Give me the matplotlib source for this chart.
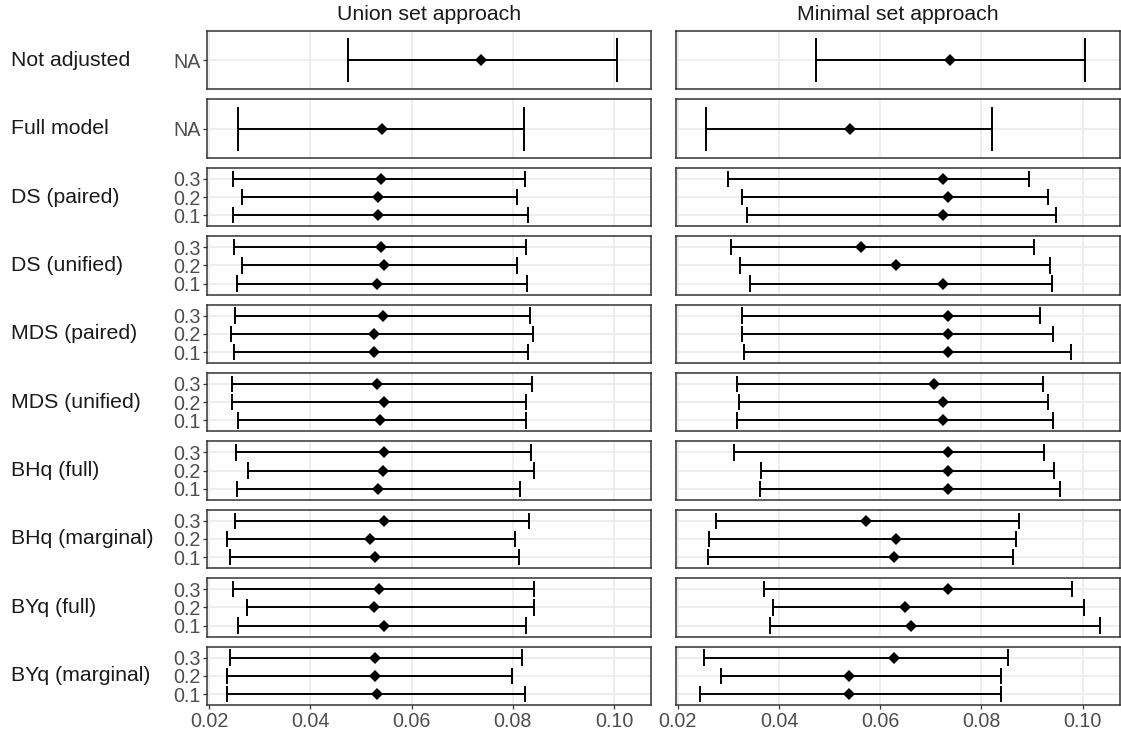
import numpy as np
import matplotlib.pyplot as plt

plt.rcParams['font.family'] = ['Liberation Sans', 'DejaVu Sans']

# Methods (facet rows) and the q-levels inside each facet
methods = ["Not adjusted", "Full model", "DS (paired)", "DS (unified)",
           "MDS (paired)", "MDS (unified)", "BHq (full)", "BHq (marginal)",
           "BYq (full)", "BYq (marginal)"]
levels = ["0.1", "0.2", "0.3"]
approaches = ["Union set approach", "Minimal set approach"]

# Union set approach: lower, estimate, upper (levels in order 0.1, 0.2, 0.3)
union_lo = [[0.0475], [0.0256],
            [0.0247, 0.0265, 0.0247], [0.0255, 0.0265, 0.0248],
            [0.0249, 0.0243, 0.0250], [0.0256, 0.0244, 0.0245],
            [0.0255, 0.0276, 0.0253], [0.0240, 0.0236, 0.0250],
            [0.0256, 0.0274, 0.0247], [0.0236, 0.0236, 0.0240]]
union_est = [[0.0737], [0.0542],
             [0.0534, 0.0534, 0.0540], [0.0531, 0.0546, 0.0540],
             [0.0526, 0.0526, 0.0544], [0.0538, 0.0546, 0.0531],
             [0.0534, 0.0544, 0.0546], [0.0527, 0.0518, 0.0546],
             [0.0546, 0.0526, 0.0535], [0.0531, 0.0527, 0.0527]]
union_hi = [[0.1005], [0.0822],
            [0.0830, 0.0808, 0.0824], [0.0828, 0.0808, 0.0826],
            [0.0830, 0.0839, 0.0833], [0.0826, 0.0825, 0.0837],
            [0.0814, 0.0841, 0.0836], [0.0812, 0.0804, 0.0831],
            [0.0826, 0.0841, 0.0841], [0.0824, 0.0798, 0.0818]]

# Minimal set approach
minimal_lo = [[0.0474], [0.0255],
              [0.0336, 0.0326, 0.0300], [0.0342, 0.0322, 0.0306],
              [0.0331, 0.0327, 0.0327], [0.0316, 0.0320, 0.0317],
              [0.0363, 0.0365, 0.0311], [0.0260, 0.0262, 0.0276],
              [0.0382, 0.0389, 0.0370], [0.0243, 0.0286, 0.0252]]
minimal_est = [[0.0737], [0.0540],
               [0.0724, 0.0733, 0.0724], [0.0724, 0.0631, 0.0562],
               [0.0734, 0.0734, 0.0734], [0.0724, 0.0724, 0.0706],
               [0.0734, 0.0734, 0.0734], [0.0628, 0.0631, 0.0572],
               [0.0660, 0.0649, 0.0733], [0.0539, 0.0539, 0.0628]]
minimal_hi = [[0.1004], [0.0820],
              [0.0947, 0.0932, 0.0895], [0.0939, 0.0935, 0.0903],
              [0.0978, 0.0941, 0.0916], [0.0942, 0.0932, 0.0921],
              [0.0955, 0.0943, 0.0924], [0.0862, 0.0868, 0.0874],
              [0.1034, 0.1003, 0.0979], [0.0838, 0.0839, 0.0853]]

xticks = [0.02, 0.04, 0.06, 0.08, 0.10]

columns = [(union_lo, union_est, union_hi), (minimal_lo, minimal_est, minimal_hi)]

# shared x range, expanded 5% on each side
all_vals = np.concatenate([np.concatenate(c[0] + c[2]) for c in columns])
span = all_vals.max() - all_vals.min()
xlim = (all_vals.min() - 0.05 * span, all_vals.max() + 0.05 * span)

W, H = 1121, 736
fig, axes = plt.subplots(len(methods), 2, figsize=(W / 100, H / 100), dpi=100)
fig.subplots_adjust(left=207.3 / W, right=1120 / W, top=1 - 31 / H,
                    bottom=1 - 705 / H, wspace=0.055, hspace=0.171)

text_col = '#4D4D4D'
strip_size = 15.3
tick_size = 14.2
for j, (lo_all, est_all, hi_all) in enumerate(columns):
    for i, name in enumerate(methods):
        ax = axes[i, j]
        lo = np.array(lo_all[i])
        est = np.array(est_all[i])
        hi = np.array(hi_all[i])
        y = np.arange(1, len(est) + 1)
        ax.hlines(y, lo, hi, color='black', lw=1.4, zorder=3)
        ax.vlines(lo, y - 0.45, y + 0.45, color='black', lw=1.4, zorder=3)
        ax.vlines(hi, y - 0.45, y + 0.45, color='black', lw=1.4, zorder=3)
        ax.plot(est, y, 'D', color='black', ms=6.6, mew=0, zorder=4)

        ax.set_xlim(xlim)
        ax.set_ylim(0.4, len(est) + 0.6)
        ax.set_xticks(xticks)
        ax.set_yticks(y)
        ax.set_facecolor('white')
        ax.grid(True, color='#EBEBEB', lw=1.2, zorder=0)
        ax.set_axisbelow(True)
        for s in ax.spines.values():
            s.set_color('#333333')
            s.set_linewidth(1.1)
        ax.tick_params(colors='#333333', labelcolor=text_col, labelsize=tick_size,
                       length=3, width=0.9, pad=2)

        if j == 0:
            ax.set_yticklabels(["NA"] if len(est) == 1 else levels)
        else:
            ax.tick_params(axis='y', left=False, labelleft=False)
        if i == len(methods) - 1:
            ax.set_xticklabels([f"{t:.2f}" for t in xticks])
        else:
            ax.tick_params(axis='x', bottom=False, labelbottom=False)

# facet row labels on the left
for i, name in enumerate(methods):
    pos = axes[i, 0].get_position()
    fig.text(11 / W, (pos.y0 + pos.y1) / 2, name, ha='left', va='center',
             fontsize=strip_size, color='#1A1A1A')

# column titles
for j, title in enumerate(approaches):
    pos = axes[0, j].get_position()
    fig.text((pos.x0 + pos.x1) / 2, 1 - 15 / H, title, ha='center', va='center',
             fontsize=strip_size, color='#1A1A1A')

fig.savefig('out.png', dpi=100)
